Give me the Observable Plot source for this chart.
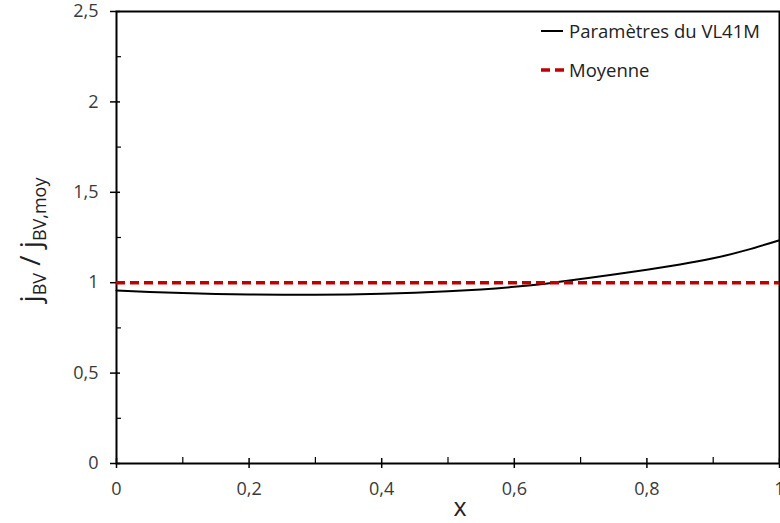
<!DOCTYPE html>
<html><head><meta charset="utf-8">
<script src="https://cdn.jsdelivr.net/npm/d3@7"></script>
<script src="https://cdn.jsdelivr.net/npm/@observablehq/plot@0.6"></script>
<style>
body{margin:0;background:#fff;font-family:"Open Sans",sans-serif;}
#wrap{position:relative;width:780px;height:523px;}
.leg{position:absolute;font-family:"Open Sans",sans-serif;font-size:18.5px;color:#222;display:flex;align-items:center;white-space:nowrap;}
</style></head>
<body><div id="wrap"></div>
<script>
const xs = [0, 0.05, 0.1, 0.15, 0.2, 0.25, 0.3, 0.35, 0.4, 0.45, 0.5, 0.55, 0.6, 0.65, 0.7, 0.75, 0.8, 0.85, 0.9, 0.95, 1.0];
const ys = [0.957, 0.949, 0.943, 0.938, 0.935, 0.933, 0.933, 0.935, 0.939, 0.945, 0.953, 0.963, 0.977, 0.996, 1.020, 1.045, 1.072, 1.101, 1.135, 1.180, 1.235];
const meanValue = 1;
const xTicks = [0, 0.2, 0.4, 0.6, 0.8, 1];
const xMinor = [0.1, 0.3, 0.5, 0.7, 0.9];
const yTicks = [0, 0.5, 1, 1.5, 2, 2.5];
const yMinor = [0.25, 0.75, 1.25, 1.75, 2.25];
const seriesNames = ["Paramètres du VL41M", "Moyenne"];

const data = xs.map((x, i) => ({x, y: ys[i]}));
const fmt = d => String(d).replace(".", ",");

const chart = Plot.plot({
  width: 780, height: 523,
  marginLeft: 116, marginRight: 1, marginTop: 11, marginBottom: 60,
  style: {fontFamily: "'Open Sans', sans-serif", color: "#333", background: "#fff"},
  x: {domain: [0, 1]},
  y: {domain: [0, 2.5]},
  marks: [
    Plot.frame({stroke: "#000", strokeWidth: 2}),
    Plot.axisX({ticks: xTicks, tickFormat: fmt, tickSize: 5, tickPadding: 14, strokeWidth: 1.5, stroke: "#000", fill: "#3a3a3a", label: null, fontSize: 18}),
    Plot.axisX({ticks: xTicks, tickFormat: () => "", tickSize: -5, strokeWidth: 1.5, stroke: "#000", label: null}),
    Plot.axisX({ticks: xMinor, tickFormat: () => "", tickSize: -6, strokeWidth: 1.2, stroke: "#000", label: null}),
    Plot.axisY({ticks: yTicks, tickFormat: fmt, tickSize: 6, tickPadding: 12, strokeWidth: 1.5, stroke: "#000", fill: "#3a3a3a", label: null, fontSize: 18}),
    Plot.axisY({ticks: yTicks, tickFormat: () => "", tickSize: -4, strokeWidth: 1.5, stroke: "#000", label: null}),
    Plot.axisY({ticks: yMinor, tickFormat: () => "", tickSize: -5, strokeWidth: 1.2, stroke: "#000", label: null}),
    Plot.line(data, {x: "x", y: "y", stroke: "#000", strokeWidth: 2, curve: "natural"}),
    Plot.ruleY([meanValue], {stroke: "#c00000", strokeWidth: 3.5, strokeDasharray: "9,5"})
  ]
});
document.getElementById("wrap").appendChild(chart);

const svg = d3.select(chart);
svg.selectAll("text").style("font-size", "18px").attr("font-size", 18);

const yl = svg.append("text")
  .attr("transform", "translate(40,240) rotate(-90)")
  .attr("text-anchor", "middle")
  .attr("font-family", "'Open Sans', sans-serif")
  .style("font-size", "28px").attr("fill", "#222");
yl.append("tspan").text("j");
yl.append("tspan").style("font-size", "18px").attr("dy", 6).text("BV");
yl.append("tspan").attr("dy", -6).text(" / j");
yl.append("tspan").style("font-size", "18px").attr("dy", 6).text("BV,moy");
svg.append("text").attr("x", 460).attr("y", 516).attr("text-anchor", "middle")
  .attr("font-family", "'Open Sans', sans-serif").style("font-size", "25px").attr("fill", "#222").text("x");

const wrap = document.getElementById("wrap");
const l1 = document.createElement("div");
l1.className = "leg"; l1.style.left = "541px"; l1.style.top = "18px";
l1.innerHTML = '<span style="display:inline-block;border-top:2px solid #000;width:22px;margin-right:6px"></span>' + seriesNames[0];
wrap.appendChild(l1);
const l2 = document.createElement("div");
l2.className = "leg"; l2.style.left = "541px"; l2.style.top = "57px";
l2.innerHTML = '<svg width="27" height="6" style="margin-right:1px"><line x1="0" y1="3" x2="27" y2="3" stroke="#c00000" stroke-width="3.5" stroke-dasharray="9,5"/></svg>' + seriesNames[1];
wrap.appendChild(l2);
</script>
</body></html>
